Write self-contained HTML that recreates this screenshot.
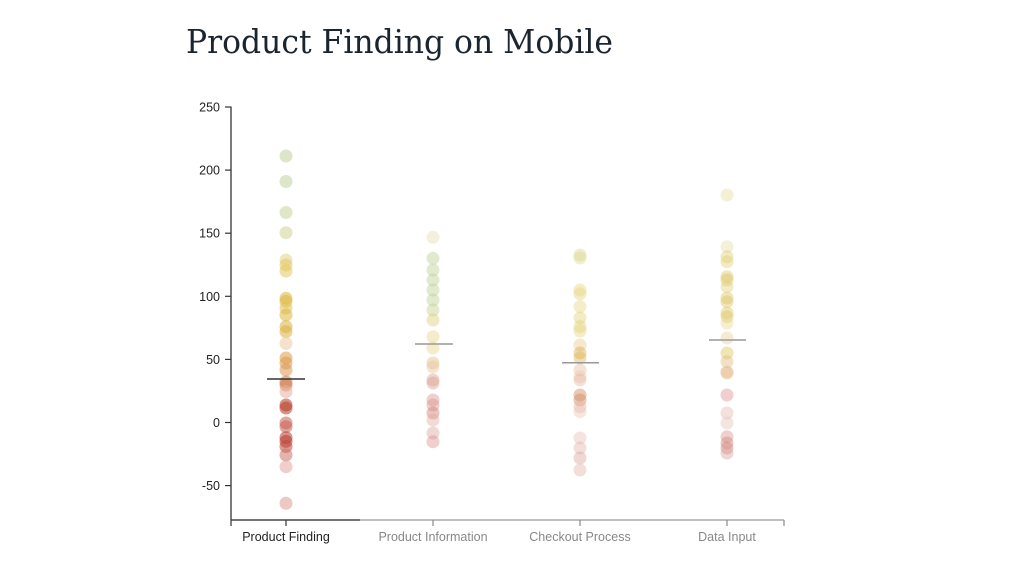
<!DOCTYPE html>
<html><head><meta charset="utf-8"><style>
html,body{margin:0;padding:0;background:#fff;}
svg{display:block;}
</style></head><body>
<svg width="1017" height="566" viewBox="0 0 1017 566" xmlns="http://www.w3.org/2000/svg">
<rect width="1017" height="566" fill="#fff"/>
<text x="186" y="53" font-family="DejaVu Serif, Liberation Serif, serif" font-size="33" fill="#1b2530" textLength="427" lengthAdjust="spacingAndGlyphs">Product Finding on Mobile</text>

<!-- y axis -->
<g font-family="Liberation Sans, Arial, sans-serif" font-size="12.5" fill="#222" text-anchor="end">
<line x1="231" y1="106.5" x2="231" y2="520" stroke="#333" stroke-width="1.3"/>
<g stroke="#333" stroke-width="1.2">
<line x1="225" y1="107" x2="231" y2="107"/>
<line x1="225" y1="170.1" x2="231" y2="170.1"/>
<line x1="225" y1="233.2" x2="231" y2="233.2"/>
<line x1="225" y1="296.3" x2="231" y2="296.3"/>
<line x1="225" y1="359.4" x2="231" y2="359.4"/>
<line x1="225" y1="422.5" x2="231" y2="422.5"/>
<line x1="225" y1="485.6" x2="231" y2="485.6"/>
</g>
<text x="220" y="111.5">250</text>
<text x="220" y="174.6">200</text>
<text x="220" y="237.7">150</text>
<text x="220" y="300.8">100</text>
<text x="220" y="363.9">50</text>
<text x="220" y="427">0</text>
<text x="220" y="490.1">-50</text>
</g>

<!-- x axis -->
<line x1="231" y1="520" x2="784" y2="520" stroke="#999" stroke-width="1.3"/>
<line x1="231" y1="520" x2="360" y2="520" stroke="#333" stroke-width="1.3"/>
<g stroke-width="1.2">
<line x1="231" y1="520" x2="231" y2="526" stroke="#333"/>
<line x1="286" y1="520" x2="286" y2="526" stroke="#333"/>
<line x1="433" y1="520" x2="433" y2="526" stroke="#888"/>
<line x1="580" y1="520" x2="580" y2="526" stroke="#888"/>
<line x1="727" y1="520" x2="727" y2="526" stroke="#888"/>
<line x1="784" y1="520" x2="784" y2="526" stroke="#888"/>
</g>
<g font-family="Liberation Sans, Arial, sans-serif" font-size="12.5" text-anchor="middle">
<text x="286" y="541" fill="#222">Product Finding</text>
<text x="433" y="541" fill="#888">Product Information</text>
<text x="580" y="541" fill="#888">Checkout Process</text>
<text x="727" y="541" fill="#888">Data Input</text>
</g>

<!-- column 1 -->
<g fill-opacity="0.55">
<circle cx="286" cy="156" r="6.5" fill="#c2d29c"/>
<circle cx="286" cy="181.5" r="6.5" fill="#c2d29c"/>
<circle cx="286" cy="212.5" r="6.5" fill="#c6d49c"/>
<circle cx="286" cy="232.7" r="6.5" fill="#d0d494"/>
<circle cx="286" cy="260" r="6.5" fill="#e6d48a"/>
<circle cx="286" cy="265" r="6.5" fill="#e2c860"/>
<circle cx="286" cy="271" r="6.5" fill="#e2c860"/>
<circle cx="286" cy="298.3" r="6.5" fill="#ddb83a"/>
<circle cx="286" cy="301.3" r="6.5" fill="#ddb83a"/>
<circle cx="286" cy="308" r="6.5" fill="#e2c25a"/>
<circle cx="286" cy="315" r="6.5" fill="#ddb63a"/>
<circle cx="286" cy="326.6" r="6.5" fill="#ddb040"/>
<circle cx="286" cy="331.6" r="6.5" fill="#ddb040"/>
<circle cx="286" cy="343.4" r="6.5" fill="#eccaa2"/>
<circle cx="286" cy="358" r="6.5" fill="#dc9a48"/>
<circle cx="286" cy="363" r="6.5" fill="#dc9a48"/>
<circle cx="286" cy="370" r="6.5" fill="#dc9858"/>
<circle cx="286" cy="382" r="6.5" fill="#cc7a48"/>
<circle cx="286" cy="385" r="6.5" fill="#cc7a48"/>
<circle cx="286" cy="391.7" r="6.5" fill="#e8b0a0"/>
<circle cx="286" cy="405" r="6.5" fill="#b83a26"/>
<circle cx="286" cy="408" r="6.5" fill="#b83a26"/>
<circle cx="286" cy="423" r="6.5" fill="#c86050"/>
<circle cx="286" cy="426.7" r="6.5" fill="#c86050"/>
<circle cx="286" cy="437.6" r="6.5" fill="#b83a2c"/>
<circle cx="286" cy="441.4" r="6.5" fill="#b83a2c"/>
<circle cx="286" cy="446.5" r="6.5" fill="#c0483a"/>
<circle cx="286" cy="455" r="6.5" fill="#cc7468"/>
<circle cx="286" cy="466.7" r="6.5" fill="#e2a8a0"/>
<circle cx="286" cy="503.3" r="6.5" fill="#dc9c92"/>
</g>
<line x1="267" y1="379" x2="305" y2="379" stroke="#333" stroke-width="1.5"/>

<!-- column 2 -->
<g fill-opacity="0.42">
<circle cx="433" cy="237.3" r="6.5" fill="#e8d8b0"/>
<circle cx="433" cy="258.3" r="6.5" fill="#b8cc8c"/>
<circle cx="433" cy="270" r="6.5" fill="#b8cc8c"/>
<circle cx="433" cy="280" r="6.5" fill="#b8cc8c"/>
<circle cx="433" cy="290" r="6.5" fill="#b8cc8c"/>
<circle cx="433" cy="300" r="6.5" fill="#b8cc8c"/>
<circle cx="433" cy="310" r="6.5" fill="#c0cc88"/>
<circle cx="433" cy="320" r="6.5" fill="#d8cc70"/>
<circle cx="433" cy="336.7" r="6.5" fill="#e6d480"/>
<circle cx="433" cy="348" r="6.5" fill="#e6d480"/>
<circle cx="433" cy="363" r="6.5" fill="#e2b878"/>
<circle cx="433" cy="367" r="6.5" fill="#e6c498"/>
<circle cx="433" cy="380" r="6.5" fill="#dc9c8c"/>
<circle cx="433" cy="383" r="6.5" fill="#dc9c8c"/>
<circle cx="433" cy="400" r="6.5" fill="#d89088"/>
<circle cx="433" cy="405" r="6.5" fill="#d89088"/>
<circle cx="433" cy="413" r="6.5" fill="#cc7468"/>
<circle cx="433" cy="420" r="6.5" fill="#e0a8a0"/>
<circle cx="433" cy="433" r="6.5" fill="#dca098"/>
<circle cx="433" cy="441.7" r="6.5" fill="#d89088"/>
</g>
<line x1="415" y1="344" x2="453" y2="344" stroke="#999" stroke-width="1.5"/>

<!-- column 3 -->
<g fill-opacity="0.42">
<circle cx="580" cy="255" r="6.5" fill="#d6d488"/>
<circle cx="580" cy="258" r="6.5" fill="#dcd890"/>
<circle cx="580" cy="290" r="6.5" fill="#e4d47c"/>
<circle cx="580" cy="294" r="6.5" fill="#e4d47c"/>
<circle cx="580" cy="306.7" r="6.5" fill="#e4d47c"/>
<circle cx="580" cy="318" r="6.5" fill="#e2d070"/>
<circle cx="580" cy="326.7" r="6.5" fill="#e2d070"/>
<circle cx="580" cy="331" r="6.5" fill="#e4d47c"/>
<circle cx="580" cy="345" r="6.5" fill="#e8c888"/>
<circle cx="580" cy="353" r="6.5" fill="#d8a848"/>
<circle cx="580" cy="358" r="6.5" fill="#dcb450"/>
<circle cx="580" cy="370" r="6.5" fill="#e8bca8"/>
<circle cx="580" cy="376.7" r="6.5" fill="#eac8a0"/>
<circle cx="580" cy="380" r="6.5" fill="#e4b4a4"/>
<circle cx="580" cy="395" r="6.5" fill="#cc8050"/>
<circle cx="580" cy="400" r="6.5" fill="#cc8458"/>
<circle cx="580" cy="406.7" r="6.5" fill="#e4b0a4"/>
<circle cx="580" cy="411.7" r="6.5" fill="#eac4b4"/>
<circle cx="580" cy="438" r="6.5" fill="#e8bcb4"/>
<circle cx="580" cy="448" r="6.5" fill="#e4b0a8"/>
<circle cx="580" cy="458" r="6.5" fill="#dca098"/>
<circle cx="580" cy="470" r="6.5" fill="#e4b0a8"/>
</g>
<line x1="562" y1="362.7" x2="599" y2="362.7" stroke="#999" stroke-width="1.5"/>

<!-- column 4 -->
<g fill-opacity="0.42">
<circle cx="727" cy="195" r="6.5" fill="#e6dc9c"/>
<circle cx="727" cy="246.7" r="6.5" fill="#e8dca4"/>
<circle cx="727" cy="256.7" r="6.5" fill="#e0cc70"/>
<circle cx="727" cy="261.7" r="6.5" fill="#e0cc70"/>
<circle cx="727" cy="276.7" r="6.5" fill="#dcc460"/>
<circle cx="727" cy="280" r="6.5" fill="#dcc460"/>
<circle cx="727" cy="286.7" r="6.5" fill="#e2cc78"/>
<circle cx="727" cy="298" r="6.5" fill="#dcc460"/>
<circle cx="727" cy="301.7" r="6.5" fill="#dcc460"/>
<circle cx="727" cy="313" r="6.5" fill="#dcc460"/>
<circle cx="727" cy="316.7" r="6.5" fill="#dcc460"/>
<circle cx="727" cy="323" r="6.5" fill="#e6d690"/>
<circle cx="727" cy="338" r="6.5" fill="#e8d09c"/>
<circle cx="727" cy="353" r="6.5" fill="#dcc050"/>
<circle cx="727" cy="361.7" r="6.5" fill="#e2b878"/>
<circle cx="727" cy="371.7" r="6.5" fill="#e8c4a0"/>
<circle cx="727" cy="373" r="6.5" fill="#e2b078"/>
<circle cx="727" cy="395" r="6.5" fill="#d8908c"/>
<circle cx="727" cy="413" r="6.5" fill="#e4b4ac"/>
<circle cx="727" cy="423" r="6.5" fill="#e8c0b8"/>
<circle cx="727" cy="436.7" r="6.5" fill="#d89088"/>
<circle cx="727" cy="443" r="6.5" fill="#d08078"/>
<circle cx="727" cy="448" r="6.5" fill="#d08078"/>
<circle cx="727" cy="453" r="6.5" fill="#dca098"/>
</g>
<line x1="709" y1="340" x2="746" y2="340" stroke="#999" stroke-width="1.5"/>
</svg>
</body></html>
